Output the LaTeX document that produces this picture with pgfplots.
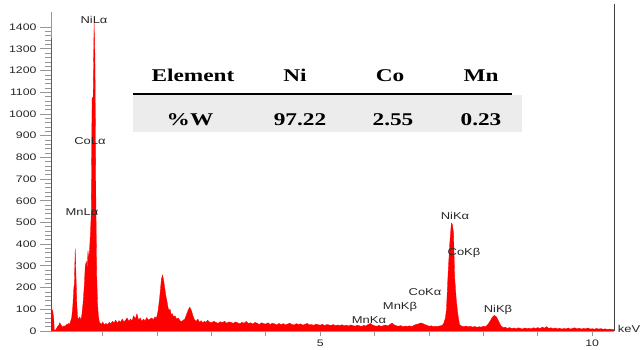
\documentclass[border=0pt]{standalone}
\usepackage{pgfplots}
\pgfplotsset{compat=1.18}
\usepackage{fontspec}
\setmainfont{Liberation Sans}[FakeStretch=1.3]
\newfontfamily\tabfont{Liberation Serif}[FakeStretch=1.3]
\definecolor{axgray}{RGB}{150,150,150}
\definecolor{tabgray}{RGB}{236,236,236}
\begin{document}
\begin{tikzpicture}
\useasboundingbox (0,0) rectangle (642bp,350bp);
\begin{axis}[
  scale only axis, width=563bp, height=319bp,
  at={(51bp,19bp)}, anchor=south west,
  xmin=0.05, xmax=10.4, ymin=0, ymax=1470,
  axis x line*=bottom, axis y line*=left,
  axis line style={-, draw=axgray, line width=0.8pt},
  tick align=outside,
  major tick length=11bp, minor tick length=6bp,
  tick style={draw=axgray, line width=0.8pt},
  xtick={1,2,3,4,5,6,7,8,9,10},
  xticklabels={,,,,5,,,,,10},
  x tick style={/pgfplots/major tick length=5bp},
  xticklabel style={yshift=6bp},
  ytick={0,100,...,1400},
  minor y tick num=4,
  /pgf/number format/assume math mode=true,
  /pgf/number format/1000 sep={},
  ticklabel style={font=\fontsize{9.5}{10}\selectfont, text=black!85},
  clip=true,
]
\addplot[draw=red, fill=red, line width=0.3pt] table {
x y
0.050 1350
0.058 1350
0.062 100
0.08 95
0.10 60
0.11 5
0.13 3
0.15 12
0.17 20
0.19 25
0.21 38
0.23 30
0.25 22
0.27 18
0.29 25
0.31 20
0.33 30
0.35 28
0.37 35
0.39 30
0.41 45
0.43 60
0.45 110
0.47 200
0.48 215
0.495 380
0.51 250
0.525 120
0.54 60
0.56 55
0.58 65
0.60 50
0.62 80
0.64 130
0.66 200
0.68 300
0.70 320
0.715 290
0.73 370
0.745 330
0.76 380
0.775 450
0.79 540
0.805 1070
0.825 1080
0.842 1420
0.858 1265
0.875 600
0.89 260
0.905 130
0.92 70
0.94 40
0.96 35
0.98 30
1.00 42
1.03 28
1.06 35
1.09 30
1.12 40
1.15 33
1.18 45
1.21 38
1.24 50
1.27 36
1.30 48
1.33 40
1.36 55
1.39 42
1.42 50
1.45 60
1.48 45
1.51 55
1.54 48
1.57 70
1.60 55
1.63 80
1.66 50
1.69 60
1.72 45
1.75 55
1.78 48
1.81 62
1.84 50
1.87 55
1.90 60
1.93 52
1.96 65
1.99 60
2.02 95
2.05 160
2.08 240
2.10 258
2.12 235
2.14 200
2.16 165
2.18 140
2.20 110
2.22 95
2.24 100
2.26 75
2.28 80
2.30 65
2.33 70
2.36 55
2.39 60
2.42 48
2.45 42
2.48 50
2.51 55
2.54 75
2.57 95
2.60 110
2.63 95
2.66 70
2.69 50
2.72 45
2.75 55
2.78 40
2.81 48
2.84 38
2.87 45
2.90 40
2.93 50
2.96 42
3.00 38
3.04 45
3.08 40
3.12 35
3.16 43
3.20 38
3.24 45
3.28 36
3.32 42
3.36 40
3.40 35
3.44 42
3.48 38
3.52 33
3.56 40
3.60 36
3.64 44
3.68 35
3.72 38
3.76 32
3.80 40
3.84 36
3.88 30
3.92 38
3.96 34
4.00 32
4.04 38
4.08 30
4.12 36
4.16 33
4.20 28
4.24 35
4.28 30
4.32 34
4.36 28
4.40 32
4.44 36
4.48 30
4.52 28
4.56 34
4.60 30
4.64 33
4.68 27
4.72 31
4.76 35
4.80 28
4.84 30
4.88 26
4.92 32
4.96 29
5.00 27
5.04 31
5.08 25
5.12 30
5.16 28
5.20 26
5.24 30
5.28 24
5.32 28
5.36 25
5.40 29
5.44 24
5.48 27
5.52 23
5.56 28
5.60 25
5.64 22
5.68 27
5.72 24
5.76 21
5.80 26
5.84 23
5.88 30
5.92 35
5.96 28
6.00 24
6.04 22
6.08 26
6.12 21
6.16 25
6.20 28
6.24 23
6.28 30
6.32 37
6.36 28
6.40 24
6.44 22
6.48 25
6.52 20
6.56 23
6.60 21
6.64 24
6.68 20
6.72 26
6.76 30
6.80 32
6.84 37
6.88 35
6.92 30
6.96 26
7.00 22
7.04 24
7.08 20
7.12 22
7.16 21
7.20 24
7.24 25
7.27 35
7.30 60
7.32 100
7.35 265
7.38 400
7.41 497
7.43 490
7.45 450
7.47 250
7.50 145
7.53 75
7.56 30
7.60 22
7.64 20
7.68 23
7.72 19
7.76 22
7.80 18
7.84 21
7.88 17
7.92 20
7.96 18
8.00 22
8.04 20
8.08 30
8.12 45
8.16 62
8.20 72
8.24 65
8.28 45
8.32 25
8.36 15
8.40 18
8.44 12
8.48 16
8.52 11
8.56 14
8.60 10
8.64 15
8.68 12
8.72 9
8.76 14
8.80 11
8.84 13
8.88 10
8.92 15
8.96 12
9.00 16
9.04 11
9.08 18
9.12 13
9.16 20
9.20 12
9.24 15
9.28 11
9.32 14
9.36 10
9.40 13
9.44 9
9.48 12
9.52 10
9.56 14
9.60 9
9.64 12
9.68 15
9.72 10
9.76 13
9.80 9
9.84 12
9.88 10
9.92 14
9.96 9
10.00 11
10.04 8
10.08 12
10.12 9
10.16 11
10.20 8
10.24 10
10.28 7
10.32 9
10.36 8
10.40 6
} \closedcycle;
\end{axis}
% right frame line
\draw[black!75, line width=0.8pt] (614bp,19bp) -- (614bp,346bp);
% peak labels
\begin{scope}[every node/.style={font=\fontsize{10}{11}\selectfont, text=black!85, inner sep=0pt}]
\node at (94bp,330bp) {NiLα};
\node at (90bp,209bp) {CoLα};
\node at (82bp,138bp) {MnLα};
\node at (455bp,134bp) {NiKα};
\node at (464bp,97bp) {CoKβ};
\node at (425bp,58bp) {CoKα};
\node at (400bp,43bp) {MnKβ};
\node at (369bp,30bp) {MnKα};
\node at (498bp,40bp) {NiKβ};
\node at (629bp,21bp) {keV};
\end{scope}
% table
\fill[tabgray] (133bp,218bp) rectangle (522bp,255bp);
\draw[black, line width=2.5bp] (133bp,256bp) -- (512bp,256bp);
\begin{scope}[every node/.style={font=\tabfont\bfseries\fontsize{18}{20}\selectfont, anchor=base, inner sep=0pt}]
\node at (193bp,268bp) {Element};
\node at (295bp,268bp) {Ni};
\node at (390bp,268bp) {Co};
\node at (481bp,268bp) {Mn};
\node at (190bp,224.3bp) {\%W};
\node at (300bp,224.3bp) {97.22};
\node at (393bp,224.3bp) {2.55};
\node at (481bp,224.3bp) {0.23};
\end{scope}
\end{tikzpicture}
\end{document}
